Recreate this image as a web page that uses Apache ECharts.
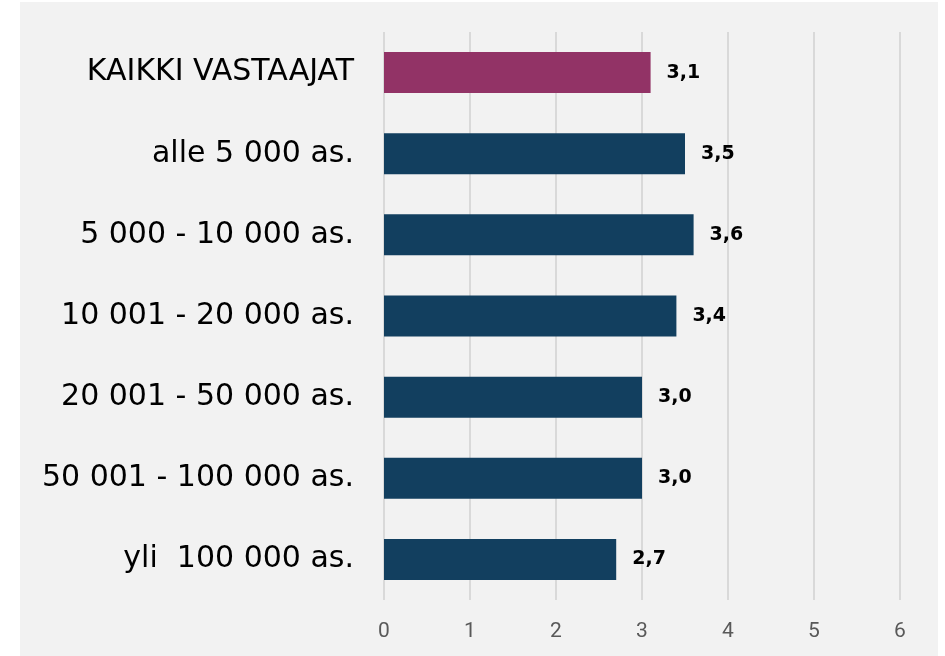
<!DOCTYPE html>
<html lang="fi">
  <head>
    <meta charset="UTF-8" />
    <title>Kuntakoko</title>
    <script src="https://cdn.jsdelivr.net/npm/echarts@6/dist/echarts.min.js"></script>
    <style>
      html, body { margin: 0; padding: 0; background: #ffffff; }
      #chart { width: 945px; height: 656px; }
    </style>
  </head>
  <body>
    <div id="chart"></div>
    <script>
      // ryhmät ylhäältä alas
      var categories = [
        "KAIKKI VASTAAJAT",
        "alle 5 000 as.",
        "5 000 - 10 000 as.",
        "10 001 - 20 000 as.",
        "20 001 - 50 000 as.",
        "50 001 - 100 000 as.",
        "yli  100 000 as."
      ];
      var values = [3.1, 3.5, 3.6, 3.4, 3.0, 3.0, 2.7];
      var xTicks = [0, 1, 2, 3, 4, 5, 6];

      var colorAll = "#923366";
      var colorGroup = "#123f5f";

      var chart = echarts.init(document.getElementById("chart"));
      var option = {
        animation: false,
        graphic: [
          {
            type: "rect",
            z: -10,
            shape: { x: 20, y: 2, width: 918, height: 654 },
            style: { fill: "#f2f2f2" }
          }
        ],
        grid: { left: 384, right: 45, top: 32, bottom: 56 },
        xAxis: {
          type: "value",
          min: xTicks[0],
          max: xTicks[xTicks.length - 1],
          interval: 1,
          axisLine: { show: false },
          axisTick: { show: false },
          axisLabel: {
            color: "#595959",
            fontSize: 21,
            fontFamily: "Roboto",
            margin: 21
          },
          splitLine: { lineStyle: { color: "#d9d9d9", width: 2 } }
        },
        yAxis: {
          type: "category",
          inverse: true,
          data: categories,
          axisLine: { show: false },
          axisTick: { show: false },
          axisLabel: {
            color: "#000000",
            fontSize: 30,
            fontFamily: "DejaVu Sans",
            margin: 30
          }
        },
        series: [
          {
            type: "bar",
            barWidth: 41,
            data: values.map(function (v, i) {
              return {
                value: v,
                itemStyle: { color: i === 0 ? colorAll : colorGroup }
              };
            }),
            label: {
              show: true,
              position: "right",
              distance: 16,
              color: "#000000",
              fontSize: 19,
              fontWeight: "bold",
              fontFamily: "DejaVu Sans",
              formatter: function (p) {
                return p.value.toFixed(1).replace(".", ",");
              }
            }
          }
        ]
      };
      chart.setOption(option);
    </script>
  </body>
</html>
